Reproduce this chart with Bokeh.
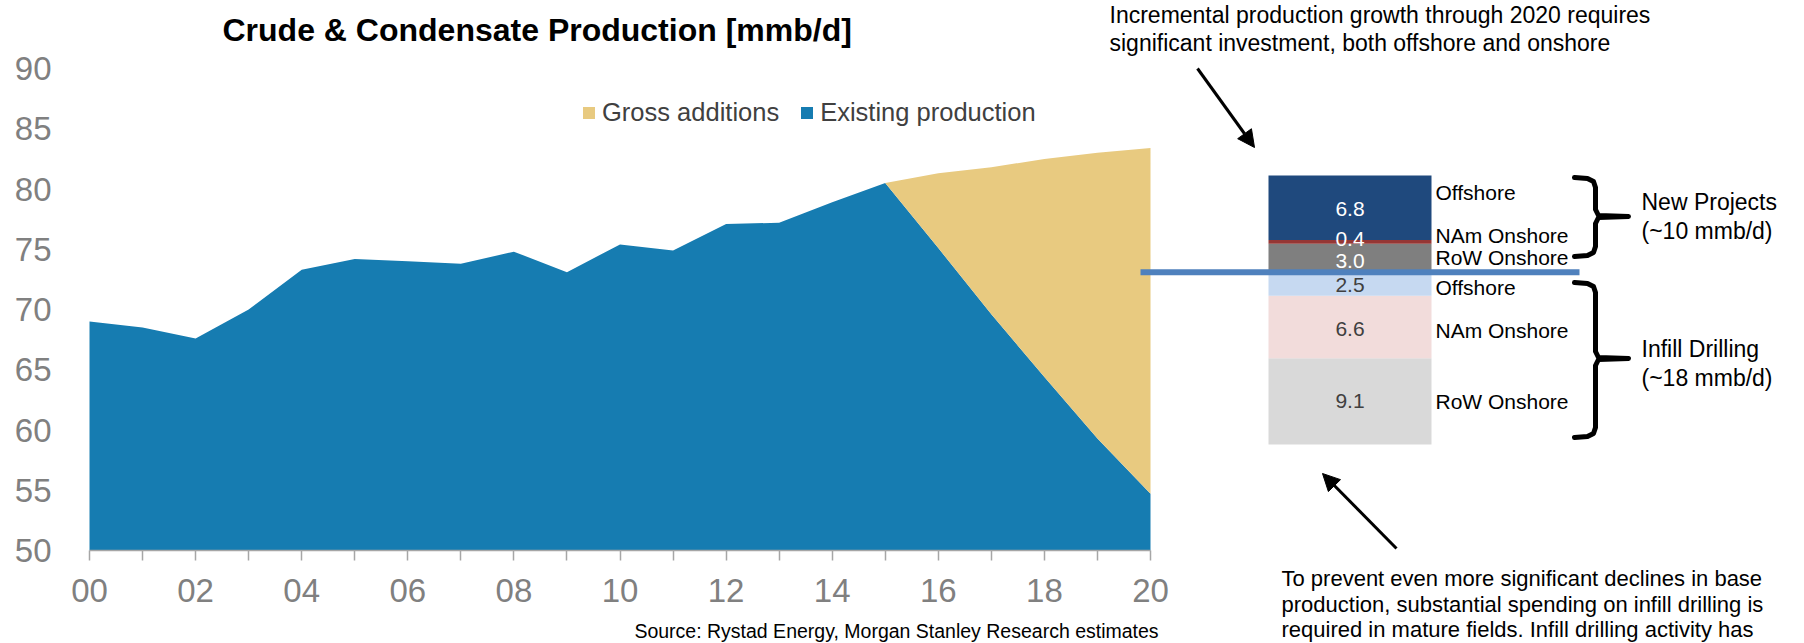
import numpy as np
from bokeh.plotting import figure
from bokeh.models import (Range1d, FixedTicker, Label, Arrow, NormalHead,
                          Legend, LegendItem, ColumnDataSource)
from bokeh.core.properties import value
from bokeh.embed import file_html
from bokeh.resources import INLINE

# ---------------- data ----------------
years = list(range(0, 21))
year_tick_values = [0, 2, 4, 6, 8, 10, 12, 14, 16, 18, 20]
year_tick_labels = ["00", "02", "04", "06", "08", "10", "12", "14", "16", "18", "20"]
year_minor_ticks = [1, 3, 5, 7, 9, 11, 13, 15, 17, 19]
y_tick_values = [50, 55, 60, 65, 70, 75, 80, 85, 90]

existing_production = [69.0, 68.5, 67.6, 70.0, 73.3, 74.2, 74.0, 73.8, 74.8, 73.1,
                       75.4, 74.9, 77.1, 77.2, 78.9, 80.5, 75.1, 69.6, 64.4, 59.3, 54.7]
gross_additions = [0, 0, 0, 0, 0, 0, 0, 0, 0, 0,
                   0, 0, 0, 0, 0, 0, 6.2, 12.2, 18.1, 23.7, 28.7]

bar_segment_labels = ["RoW Onshore", "NAm Onshore", "Offshore",
                      "RoW Onshore", "NAm Onshore", "Offshore"]
bar_values = [9.1, 6.6, 2.5, 3.0, 0.4, 6.8]
bar_colors = ["#d9d9d9", "#f2dcdb", "#c6d9f1", "#7f7f7f", "#953735", "#1f497d"]
bar_value_colors = ["#404040", "#404040", "#404040", "#ffffff", "#ffffff", "#ffffff"]
n_infill = 3

title_text = "Crude & Condensate Production [mmb/d]"
top_note = ["Incremental production growth through 2020 requires",
            "significant investment, both offshore and onshore"]
bottom_note = ["To prevent even more significant declines in base",
               "production, substantial spending on infill drilling is",
               "required in mature fields. Infill drilling activity has"]
source_text = "Source: Rystad Energy, Morgan Stanley Research estimates"
group_texts = [["New Projects", "(~10 mmb/d)"], ["Infill Drilling", "(~18 mmb/d)"]]

# ---------------- layout / style ----------------
W, H = 1804, 643
X0_PX, Y50_PX = 89, 550          # pixel position of year 00 and of value 50
PX_PER_YEAR = 53.05
PX_PER_MMBD = 12.05
Y_MIN = 50
BAR_BASE_PX = 444
BAR_PX_PER_MMBD = 9.47
BAR_CX, BAR_W = 1349.5, 163
BLUE, GOLD = "#167cb1", "#e8ca80"
FONT = "Liberation Sans"
GRAY_AX = "#a6a6a6"

p = figure(width=W, height=H, output_backend="svg", toolbar_location=None, tools="",
           x_range=Range1d(-X0_PX / PX_PER_YEAR, (W - X0_PX) / PX_PER_YEAR),
           y_range=Range1d(Y_MIN - (H - Y50_PX) / PX_PER_MMBD, Y_MIN + Y50_PX / PX_PER_MMBD),
           min_border_left=0, min_border_right=0,
           min_border_top=0, min_border_bottom=0)
p.extra_x_ranges = {"px": Range1d(0, W)}
p.extra_y_ranges = {"px": Range1d(H, 0),
                    "bar": Range1d((BAR_BASE_PX - H) / BAR_PX_PER_MMBD,
                                   BAR_BASE_PX / BAR_PX_PER_MMBD)}
p.outline_line_color = None
p.grid.visible = False

# axes (drawn at fixed data locations inside the frame)
xa = p.xaxis[0]
xa.fixed_location = Y_MIN
xa.ticker = FixedTicker(ticks=year_tick_values, minor_ticks=year_minor_ticks)
xa.bounds = (years[0], years[-1])
xa.major_label_overrides = dict(zip(year_tick_values, year_tick_labels))
xa.axis_line_color = GRAY_AX
xa.axis_line_width = 1.5
xa.major_tick_line_color = GRAY_AX
xa.minor_tick_line_color = GRAY_AX
xa.major_tick_line_width = 1.5
xa.minor_tick_line_width = 1.5
xa.major_tick_in = 0
xa.major_tick_out = 10
xa.minor_tick_in = 0
xa.minor_tick_out = 10
xa.major_label_standoff = 18
xa.major_label_text_font = FONT
xa.major_label_text_font_size = "33px"
xa.major_label_text_color = "#808080"

ya = p.yaxis[0]
ya.fixed_location = years[0]
ya.ticker = FixedTicker(ticks=y_tick_values, minor_ticks=[])
ya.axis_line_color = None
ya.major_tick_line_color = None
ya.minor_tick_line_color = None
ya.major_tick_in = 0
ya.major_tick_out = 0
ya.major_label_standoff = 38
ya.major_label_text_font = FONT
ya.major_label_text_font_size = "33px"
ya.major_label_text_color = "#808080"

# areas
existing = np.array(existing_production)
total = existing + np.array(gross_additions)
src = ColumnDataSource(dict(year=years, base=[Y_MIN] * len(years),
                            existing=existing, total=total))
r_exist = p.varea(x="year", y1="base", y2="existing", source=src, fill_color=BLUE)
r_gross = p.varea(x="year", y1="existing", y2="total", source=src, fill_color=GOLD)

legend = Legend(items=[LegendItem(label="Gross additions", renderers=[r_gross]),
                       LegendItem(label="Existing production", renderers=[r_exist])],
                location=(581, H - 127), orientation="horizontal",
                glyph_width=15, glyph_height=15, label_standoff=6, spacing=20,
                padding=0, margin=0, border_line_color=None, background_fill_alpha=0,
                label_text_font=FONT, label_text_font_size="25.5px",
                label_text_color="#404040")
p.add_layout(legend)

# stacked bar of 2020 gross additions
vals = np.array(bar_values)
tops = np.cumsum(vals)
bottoms = tops - vals
bsrc = ColumnDataSource(dict(x=[BAR_CX] * len(vals), bottom=bottoms, top=tops,
                             color=bar_colors, mid=(bottoms + tops) / 2,
                             txt=[f"{v:.1f}" for v in bar_values],
                             tcolor=bar_value_colors, dy=[0, 2, 1, 3, -3, 1]))
p.vbar(x="x", width=BAR_W, bottom="bottom", top="top", fill_color="color",
       line_color=None, source=bsrc, x_range_name="px", y_range_name="bar")
p.text(x="x", y="mid", text="txt", text_color="tcolor", y_offset="dy", source=bsrc,
       text_align="center", text_baseline="middle", text_font=value(FONT),
       text_font_size="21px", x_range_name="px", y_range_name="bar")

infill_total = float(np.sum(vals[:n_infill]))
p.segment(x0=[1140], y0=[infill_total], x1=[1579], y1=[infill_total],
          line_color="#4f81bd", line_width=6, x_range_name="px", y_range_name="bar")

# segment names right of bar
seg_label_y = [401, 330, 287, 257, 235, 192]
p.text(x=[1435] * 6, y=seg_label_y, text=bar_segment_labels, text_color="black",
       text_align="left", text_baseline="middle", text_font=value(FONT),
       text_font_size="21px", x_range_name="px", y_range_name="px")

# braces
def brace(top, mid, bottom, xl=1574, xv=1595, xt=1628):
    xs = [xl, xv - 8, xv - 2, xv, xv, xv + 3, xt, xv + 3, xv, xv, xv - 2, xv - 8, xl]
    ys = [top, top + 1, top + 4, top + 10, mid - 7, mid - 1, mid, mid + 1, mid + 7,
          bottom - 10, bottom - 4, bottom - 1, bottom]
    return xs, ys

b1 = brace(177, 216, 256)
b2 = brace(282, 358, 437)
p.multi_line(xs=[b1[0], b2[0]], ys=[b1[1], b2[1]], line_color="black", line_width=5,
             line_join="round", line_cap="round", x_range_name="px", y_range_name="px")

# arrows
for (xs0, ys0, xs1, ys1) in [(1197, 68, 1254, 147), (1396, 548, 1322, 473)]:
    p.add_layout(Arrow(end=NormalHead(size=17, fill_color="black", line_color="black"),
                       x_start=xs0, y_start=ys0, x_end=xs1, y_end=ys1,
                       line_color="black", line_width=3,
                       x_range_name="px", y_range_name="px"))

def add_label(x, y, text, size, align="left", baseline="middle", style="normal",
              color="black"):
    p.add_layout(Label(x=x, y=y, text=text, x_range_name="px", y_range_name="px",
                       text_font=FONT, text_font_size=size, text_font_style=style,
                       text_color=color, text_align=align, text_baseline=baseline))

add_label(222, 29, title_text, "32px", style="bold")
add_label(1109, 14, top_note[0], "23px")
add_label(1109, 42, top_note[1], "23px")
for i, line in enumerate(bottom_note):
    add_label(1281, 578 + 25.5 * i, line, "22px")
add_label(896, 630, source_text, "19.5px", align="center")
add_label(1641, 201, group_texts[0][0], "23px")
add_label(1641, 230, group_texts[0][1], "23px")
add_label(1641, 348, group_texts[1][0], "23px")
add_label(1641, 377, group_texts[1][1], "23px")

open("out.html", "w").write(file_html(p, INLINE))
